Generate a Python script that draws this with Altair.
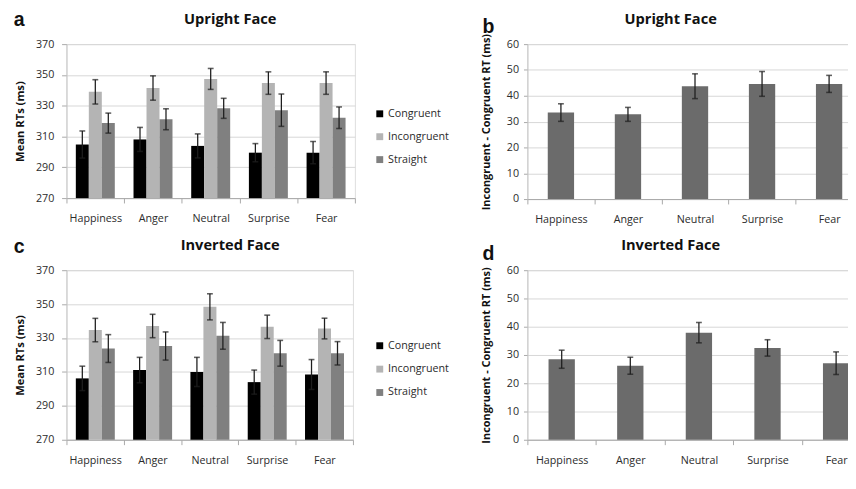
import altair as alt
import pandas as pd

# ---------------- data ----------------
emotions = ["Happiness", "Anger", "Neutral", "Surprise", "Fear"]
conditions = ["Congruent", "Incongruent", "Straight"]

# panel a: Upright face, mean RTs (ms) and SE
up_congruent = [304.8, 308.1, 303.9, 299.5, 299.5]
up_congruent_se = [8.8, 7.8, 7.8, 5.9, 7.2]
up_incongruent = [339.0, 341.5, 347.4, 344.7, 344.7]
up_incongruent_se = [7.9, 7.9, 6.8, 7.3, 7.3]
up_straight = [318.7, 321.2, 328.3, 327.1, 322.2]
up_straight_se = [6.5, 6.8, 6.5, 10.5, 7.0]

# panel c: Inverted face, mean RTs (ms) and SE
inv_congruent = [306.2, 311.1, 310.0, 304.0, 308.5]
inv_congruent_se = [7.2, 7.5, 8.6, 7.1, 8.8]
inv_incongruent = [334.7, 337.1, 348.4, 336.6, 335.6]
inv_incongruent_se = [6.9, 6.9, 7.7, 6.9, 6.1]
inv_straight = [323.8, 325.3, 331.3, 321.0, 321.0]
inv_straight_se = [8.2, 8.3, 7.9, 7.6, 6.9]

# panels b, d: Incongruent - Congruent RT (ms)
up_diff = [33.5, 32.8, 43.7, 44.6, 44.6]
up_diff_se = [3.4, 2.7, 4.8, 4.8, 3.3]
inv_diff = [28.5, 26.2, 37.9, 32.5, 27.1]
inv_diff_se = [3.2, 3.0, 3.6, 2.9, 4.0]

rt_ticks = [270, 290, 310, 330, 350, 370]
diff_ticks = [0, 10, 20, 30, 40, 50, 60]

cond_colors = ["#000000", "#b4b4b4", "#808080"]
diff_color = "#6b6b6b"
FONT = "Open Sans"
TXT = "#2b2b2b"
ERR = "#1e1e1e"


def long_table(means, ses):
    rows = []
    for cond, m_list, s_list in zip(conditions, means, ses):
        for emo, m, s in zip(emotions, m_list, s_list):
            rows.append({"emotion": emo, "condition": cond, "mean": m,
                         "lo": m - s, "hi": m + s})
    return pd.DataFrame(rows)


def diff_table(means, ses):
    return pd.DataFrame({"emotion": emotions, "mean": means,
                         "lo": [m - s for m, s in zip(means, ses)],
                         "hi": [m + s for m, s in zip(means, ses)]})


def label_layer(text, x, y, size, align="center", font=FONT):
    return alt.Chart(pd.DataFrame({"t": [text]})).mark_text(
        fontSize=size, fontWeight="bold", font=font, align=align,
        baseline="alphabetic", color="#111111"
    ).encode(text="t:N", x=alt.value(x), y=alt.value(y))


def x_axis():
    return alt.Axis(labelAngle=0, tickBand="extent", ticks=True, tickSize=5,
                    labelPadding=10, grid=False, labelFontSize=11,
                    labelColor=TXT, domainColor="#a8a8a8", tickColor="#a8a8a8")


def grouped_panel(df, title, letter, w, h, title_y, letter_y, legend_y, row_pad):
    xenc = alt.X("emotion:N", sort=emotions, title=None,
                 scale=alt.Scale(paddingInner=0, paddingOuter=0), axis=x_axis())
    xoff = alt.XOffset("condition:N", sort=conditions,
                       scale=alt.Scale(paddingInner=0, paddingOuter=0.72))
    yscale = alt.Scale(domain=[270, 370], nice=False, zero=False)
    yaxis = alt.Axis(values=rt_ticks, title="Mean RTs (ms)", labelOverlap=False,
                     titleFontSize=11.5, titleFontWeight="bold", titlePadding=10,
                     labelFontSize=11, labelColor=TXT, titleColor="#111111",
                     tickSize=5, labelPadding=8, grid=True, gridColor="#d6d6d6",
                     domainColor="#c4c4c4", tickColor="#a8a8a8")
    base = alt.Chart(df)
    bars = base.mark_bar().encode(
        x=xenc, xOffset=xoff,
        y=alt.Y("mean:Q", scale=yscale, axis=yaxis), y2=alt.datum(270),
        color=alt.Color("condition:N", sort=conditions,
                        scale=alt.Scale(domain=conditions, range=cond_colors),
                        legend=alt.Legend(orient="none", legendX=316, legendY=legend_y,
                                          title=None, symbolType="square",
                                          symbolSize=50, symbolStrokeWidth=0,
                                          labelFontSize=11, labelColor=TXT,
                                          labelFont=FONT, rowPadding=row_pad,
                                          labelOffset=3)))
    rules = base.mark_rule(color=ERR, strokeWidth=1.3).encode(
        x=xenc, xOffset=xoff,
        y=alt.Y("lo:Q", scale=yscale, axis=yaxis), y2="hi:Q")
    cap_hi = base.mark_tick(color=ERR, thickness=1.6, size=6).encode(
        x=xenc, xOffset=xoff, y=alt.Y("hi:Q", scale=yscale, axis=yaxis))
    cap_lo = base.mark_tick(color=ERR, thickness=1.6, size=6).encode(
        x=xenc, xOffset=xoff, y=alt.Y("lo:Q", scale=yscale, axis=yaxis))
    ttl = label_layer(title, 168, title_y, 15)
    let = label_layer(letter, -54, letter_y, 20, align="left", font="Liberation Sans")
    return alt.layer(bars, rules, cap_hi, cap_lo, ttl, let).properties(width=w, height=h)


def diff_panel(df, title, letter, w, h, title_y, letter_y):
    xenc = alt.X("emotion:N", sort=emotions, title=None,
                 scale=alt.Scale(paddingInner=0, paddingOuter=0), axis=x_axis())
    yscale = alt.Scale(domain=[0, 60], nice=False)
    yaxis = alt.Axis(values=diff_ticks, labelOverlap=False,
                     title="Incongruent - Congruent RT (ms)",
                     titleFontSize=11.2, titleFontWeight="bold", titlePadding=15,
                     labelFontSize=11, labelColor=TXT, titleColor="#111111",
                     tickSize=4, labelPadding=5, grid=True, gridColor="#d6d6d6",
                     domainColor="#c4c4c4", tickColor="#a8a8a8")
    base = alt.Chart(df)
    bars = base.mark_bar(color=diff_color, width=27).encode(
        x=xenc, y=alt.Y("mean:Q", scale=yscale, axis=yaxis))
    rules = base.mark_rule(color=ERR, strokeWidth=1.3).encode(
        x=xenc, y=alt.Y("lo:Q", scale=yscale, axis=yaxis), y2="hi:Q")
    cap_hi = base.mark_tick(color=ERR, thickness=1.6, size=6).encode(
        x=xenc, y=alt.Y("hi:Q", scale=yscale, axis=yaxis))
    cap_lo = base.mark_tick(color=ERR, thickness=1.6, size=6).encode(
        x=xenc, y=alt.Y("lo:Q", scale=yscale, axis=yaxis))
    ttl = label_layer(title, 147, title_y, 15)
    let = label_layer(letter, -46, letter_y, 20, align="left", font="Liberation Sans")
    return alt.layer(bars, rules, cap_hi, cap_lo, ttl, let).properties(width=w, height=h)


panel_a = grouped_panel(long_table([up_congruent, up_incongruent, up_straight],
                                   [up_congruent_se, up_incongruent_se, up_straight_se]),
                        "Upright Face", "a", 296, 158, -21, -19, 66, 11.5)
panel_b = diff_panel(diff_table(up_diff, up_diff_se), "Upright Face", "b",
                     344, 159, -21, -11)
panel_c = grouped_panel(long_table([inv_congruent, inv_incongruent, inv_straight],
                                   [inv_congruent_se, inv_incongruent_se, inv_straight_se]),
                        "Inverted Face", "c", 294, 174, -21, -18, 72, 12)
panel_d = diff_panel(diff_table(inv_diff, inv_diff_se), "Inverted Face", "d",
                     352, 174, -21, -10)

chart = alt.concat(
    panel_a, panel_b, panel_c, panel_d, columns=2,
    spacing=alt.RowColnumber(row=73, column=177), bounds="flush"
).resolve_scale(color="independent").resolve_legend(color="independent").properties(
    padding={"left": 5, "top": -5, "right": -24, "bottom": 0},
    background="#ffffff"
).configure_view(stroke=None).configure(font=FONT).configure_axis(
    labelFont=FONT, titleFont=FONT)

chart.save("out.html", embed_options={"renderer": "svg", "actions": False})
